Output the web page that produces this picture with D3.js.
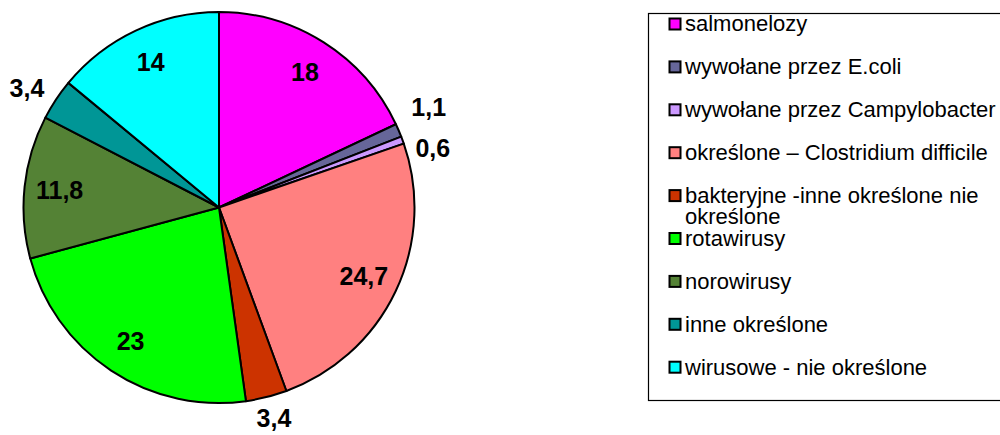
<!DOCTYPE html>
<html>
<head>
<meta charset="utf-8">
<script src="https://cdn.jsdelivr.net/npm/d3@7"></script>
<style>
    body { margin: 0; background: #fff; }
    #chart { width: 1000px; height: 435px; }
    text { font-family: Arial, "Liberation Sans", sans-serif; }
</style>
</head>
<body>
<div id="chart"></div>
<script>
const categories = [
    "salmonelozy",
    "wywołane przez E.coli",
    "wywołane przez Campylobacter",
    "określone – Clostridium difficile",
    "bakteryjne -inne określone nie określone",
    "rotawirusy",
    "norowirusy",
    "inne określone",
    "wirusowe - nie określone"
];
const values = [18, 1.1, 0.6, 24.7, 3.4, 23, 11.8, 3.4, 14];
const valueLabels = ["18", "1,1", "0,6", "24,7", "3,4", "23", "11,8", "3,4", "14"];
const colors = ["#ff00ff", "#666699", "#cc99ff", "#ff8080", "#cc3300", "#00ff00", "#548235", "#009696", "#00ffff"];

function PieChart() {

    let self = this;

    self.initialize = function(conf) {
        self.el = document.getElementById(conf.el);
        self.width = 1000;
        self.height = 435;
        self.cx = 219;
        self.cy = 207.5;
        self.radius = 195.5;

        self.dataset = categories.map((c, i) => ({ key: c, value: values[i], label: valueLabels[i], index: i }));

        self.arc = d3.arc().innerRadius(0).outerRadius(self.radius);
        self.labelArc = d3.arc().innerRadius(self.radius * 0.82).outerRadius(self.radius * 0.82);
        self.pie = d3.pie().value(d => d.value).sort(null);

        self.render();
    };

    self.render = function() {
        self.svg = d3.select(self.el).append("svg")
            .attr("width", self.width)
            .attr("height", self.height);

        self.renderSlices();
        self.renderLabels();
        self.renderLegend();
    };

    self.renderSlices = function() {
        self.pieData = self.pie(self.dataset);
        self.g = self.svg.append("g")
            .attr("transform", "translate(" + self.cx + "," + self.cy + ")");

        self.g.selectAll("path.slice")
            .data(self.pieData)
            .enter()
            .append("path")
            .attr("class", "slice")
            .attr("d", self.arc)
            .attr("fill", d => colors[d.data.index])
            .attr("stroke", "#000")
            .attr("stroke-width", 2)
            .attr("stroke-linejoin", "round");
    };

    self.renderLabels = function() {
        let fs = 25, capHalf = 9, approxW = 38;
        let labels = self.pieData.map(d => {
            let a = (d.startAngle + d.endAngle) / 2;
            if (d.data.value >= 5) {
                let c = self.labelArc.centroid(d);
                return { d: d, x: c[0], y: c[1], side: 0 };
            }
            // small slices: label box just outside the rim
            let r = self.radius + 12;
            let s = Math.sin(a);
            let shift = Math.abs(s) > 0.5 ? Math.sign(s) : s;
            let x = s * r + shift * approxW / 2;
            let y = -Math.cos(a) * r - Math.cos(a) * capHalf;
            return { d: d, x: x, y: y, side: s >= 0 ? 1 : -1 };
        });

        // push apart outside labels on the same side that collide
        [1, -1].forEach(side => {
            let grp = labels.filter(l => l.side === side && Math.abs(l.x) > 150).sort((a, b) => a.y - b.y);
            for (let i = 1; i < grp.length; i++) {
                let gap = grp[i].y - grp[i - 1].y;
                if (gap < 41) {
                    let mid = (grp[i].y + grp[i - 1].y) / 2;
                    grp[i - 1].y = mid - 20.5;
                    grp[i].y = mid + 20.5;
                }
            }
        });

        labels.forEach(l => {
            l.y = Math.min(l.y, self.height - self.cy - 13);
        });

        self.g.selectAll("text.val")
            .data(labels)
            .enter()
            .append("text")
            .attr("class", "val")
            .attr("x", l => l.x)
            .attr("y", l => l.y)
            .attr("dy", "0.36em")
            .attr("text-anchor", "middle")
            .attr("font-size", fs)
            .attr("font-weight", "bold")
            .attr("fill", "#000")
            .text(l => l.d.data.label);
    };

    self.renderLegend = function() {
        let lx = 648, ly = 13, step = 42.9, maxW = 312;

        self.svg.append("rect")
            .attr("x", lx + 0.5)
            .attr("y", ly + 0.5)
            .attr("width", 400)
            .attr("height", 387)
            .attr("fill", "#fff")
            .attr("stroke", "#000")
            .attr("stroke-width", 1.2);

        let items = self.svg.selectAll("g.legend")
            .data(self.dataset)
            .enter()
            .append("g")
            .attr("class", "legend")
            .attr("transform", (d, i) => "translate(" + lx + "," + (ly + 10.5 + i * step) + ")");

        items.append("rect")
            .attr("x", 21.5)
            .attr("y", -5)
            .attr("width", 11)
            .attr("height", 11)
            .attr("fill", d => colors[d.index])
            .attr("stroke", "#000")
            .attr("stroke-width", 2);

        items.append("text")
            .attr("x", 37)
            .attr("y", 0)
            .attr("dy", "0.36em")
            .attr("font-size", 22)
            .attr("fill", "#000")
            .each(function(d) {
                let t = d3.select(this);
                let words = d.key.split(" ");
                let line = [];
                let tspan = t.append("tspan").attr("x", 37);
                words.forEach(w => {
                    line.push(w);
                    tspan.text(line.join(" "));
                    if (tspan.node().getComputedTextLength() > maxW && line.length > 1) {
                        line.pop();
                        tspan.text(line.join(" "));
                        line = [w];
                        tspan = t.append("tspan").attr("x", 37).attr("dy", 21).text(w);
                    }
                });
            });
    };
}

let chart = new PieChart();
chart.initialize({ el: "chart" });
</script>
</body>
</html>
